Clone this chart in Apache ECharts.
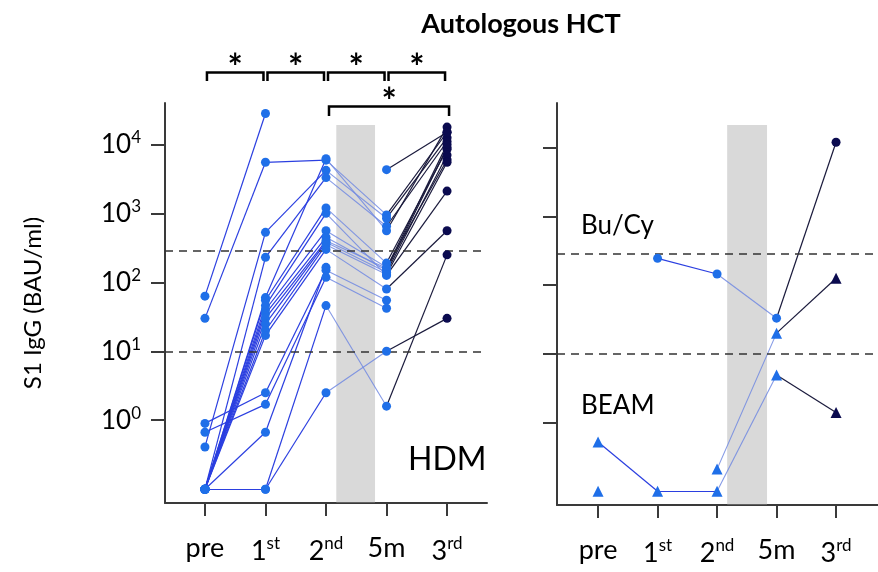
<!DOCTYPE html>
<html>
<head>
<meta charset="utf-8">
<script src="https://cdn.jsdelivr.net/npm/echarts@6/dist/echarts.min.js"></script>
<style>
html,body{margin:0;padding:0;background:#fff;}
#chart{width:878px;height:572px;}
</style>
</head>
<body>
<div id="chart"></div>
<script>
// ---- data ----
const categories = ['pre', '1st', '2nd', '5m', '3rd'];
const tickLabels = ['pre', '1{s|st}', '2{s|nd}', '5m', '3{s|rd}'];
const yTickExponents = [0, 1, 2, 3, 4];
const thresholds = [290, 10];           // dashed reference levels (BAU/ml)
// undetectable values are plotted at 0.1 (bottom row)
// HDM patients, one entry per patient, per time point
const hdmPre = [63, 30, 0.41, 0.1, 0.1, 0.1, 0.1, 0.1, 0.1, 0.1, 0.1, 0.1, 0.1, 0.9, 0.67, 0.1, 0.1, 0.1, null];
const hdm1st = [28000, 5500, 530, 230, 60, 55, 46, 40, 35, 30, 25, 20, 17, 2.5, 1.7, 0.1, 0.1, 0.67, null];
const hdm2nd = [null, 5900, 4200, 3300, 6200, 1200, 1000, 560, 450, 400, 380, 350, 300, 150, 118, 46, 2.5, 165, null];
const hdm5m  = [null, 950, 850, 650, 560, 190, 126, 165, 150, 160, 140, 130, 80, 55, 42, 1.6, 10, null, 4300];
const hdm3rd = [null, 15000, 12500, 11000, 17800, 8500, 2100, 6000, 9000, 10000, 7000, 5500, 560, null, null, 250, 30, null, 15000];
// Bu/Cy and BEAM patients
const buCy  = [null, 245, 145, 33, 12000];
const beamA = [0.52, 0.1, 0.1, 4.9, 1.4];
const beamB = [0.1, null, 0.21, 20, 126];

// ---- styles ----
const C_POINT = '#1f6fe8', C_NAVY = '#0b0b4f';
const C_SEG = ['#2b3fe0', '#2b3fe0', '#7088e2', '#1a1a3c'];
const FONT = 'Lato, "Liberation Sans", sans-serif';

function rows(cols, n) {
  const out = [];
  for (let p = 0; p < n; p++) out.push(cols.map(c => c[p]));
  return out;
}
const hdmPatients = rows([hdmPre, hdm1st, hdm2nd, hdm5m, hdm3rd], hdmPre.length);
const rightCircle = [buCy];
const rightTri = [beamA, beamB];

function segs(patients, k) {
  const d = [];
  patients.forEach(v => {
    if (v[k] != null && v[k + 1] != null)
      d.push({ coords: [[k, Math.log10(v[k])], [k + 1, Math.log10(v[k + 1])]] });
  });
  return d;
}
function pts(patients, cols) {
  const d = [];
  patients.forEach(v => cols.forEach(k => { if (v[k] != null) d.push([k, Math.log10(v[k])]); }));
  return d;
}

const series = [];
function addPanel(gi, patients, symbol, size) {
  for (let k = 0; k < 4; k++) {
    series.push({
      type: 'lines', coordinateSystem: 'cartesian2d', xAxisIndex: gi, yAxisIndex: gi,
      data: segs(patients, k), silent: true, z: 3,
      lineStyle: { color: C_SEG[k], width: k === 2 ? 1.1 : 1.2, opacity: k === 2 ? 0.85 : 1 }
    });
  }
  series.push({ type: 'scatter', xAxisIndex: gi, yAxisIndex: gi, symbol, symbolSize: size, z: 5,
    itemStyle: { color: C_POINT, opacity: 1 }, data: pts(patients, [0, 1, 2, 3]) });
  series.push({ type: 'scatter', xAxisIndex: gi, yAxisIndex: gi, symbol, symbolSize: size, z: 5,
    itemStyle: { color: C_NAVY, opacity: 1 }, data: pts(patients, [4]) });
}
addPanel(0, hdmPatients, 'circle', 9);
addPanel(1, rightCircle, 'circle', 9);
addPanel(1, rightTri, 'triangle', 11);

// reference lines and shaded bands
function decor(gi, band) {
  series.push({ type: 'line', xAxisIndex: gi, yAxisIndex: gi, data: [], silent: true,
    markLine: { symbol: 'none', silent: true, label: { show: false },
      lineStyle: { type: [8, 6], color: '#333', width: 1.6 },
      data: thresholds.map(t => ({ yAxis: Math.log10(t) })) },
    markArea: { silent: true, itemStyle: { color: '#d9d9d9' },
      data: [[{ coord: [band[0], band[2]] }, { coord: [band[1], band[3]] }]] }
  });
}
decor(0, [2.17, 2.81, -1.19, 4.28]);
decor(1, [2.17, 2.84, -1.19, 4.33]);

const axisLineStyle = { color: '#3a3a3a', width: 2 };
function xAx(gi, min, max) {
  return { type: 'value', gridIndex: gi, min, max,
    axisLine: { show: true, onZero: false, lineStyle: axisLineStyle },
    axisTick: { show: true, length: 13, customValues: [0, 1, 2, 3, 4], lineStyle: axisLineStyle },
    axisLabel: { show: true, customValues: [0, 1, 2, 3, 4], margin: 32,
      formatter: v => tickLabels[Math.round(v)],
      fontFamily: FONT, fontSize: 27, color: '#000',
      rich: { s: { fontFamily: FONT, fontSize: 17, color: '#000', padding: [0, 0, 15, 0] } } },
    splitLine: { show: false } };
}
function yAx(gi, max, labels) {
  return { type: 'value', gridIndex: gi, min: -1.2, max,
    axisLine: { show: true, onZero: false, lineStyle: axisLineStyle },
    axisTick: { show: true, length: 14, customValues: yTickExponents, lineStyle: axisLineStyle },
    axisLabel: { show: labels, customValues: yTickExponents, margin: 24,
      formatter: v => '10{s|' + v + '}',
      fontFamily: FONT, fontSize: 26, color: '#000',
      rich: { s: { fontFamily: FONT, fontSize: 17, color: '#000', padding: [0, 0, 14, 0] } } },
    splitLine: { show: false },
    name: labels ? 'S1 IgG (BAU/ml)' : '', nameLocation: 'middle', nameGap: 120,
    nameTextStyle: { fontFamily: FONT, fontSize: 24, color: '#000' } };
}

const chart = echarts.init(document.getElementById('chart'), null, { renderer: 'canvas' });
chart.setOption({
  animation: false,
  backgroundColor: '#fff',
  title: { text: 'Autologous HCT', left: 516, top: 6, textAlign: 'center',
    textStyle: { fontFamily: FONT, fontWeight: 'bold', fontSize: 27, color: '#000' } },
  grid: [
    { left: 165, top: 103, width: 322, height: 400 },
    { left: 557, top: 103, width: 321, height: 402 }
  ],
  xAxis: [xAx(0, -0.66, 4.66), xAx(1, -0.69, 4.705)],
  yAxis: [yAx(0, 4.6, true), yAx(1, 4.65, false)],
  series
});

// annotations placed with the chart's own coordinate conversion
const px = (gi, i, v) => chart.convertToPixel({ xAxisIndex: gi, yAxisIndex: gi }, [i, v]);
const g = [];
const textStyle = (t, size, weight) => ({ text: t, fill: '#000', font: (weight || 'normal') + ' ' + size + 'px ' + FONT });
for (let i = 0; i < 4; i++) {
  const x1 = px(0, i, 0)[0] + 2, x2 = px(0, i + 1, 0)[0] - 2;
  g.push({ type: 'polyline', shape: { points: [[x1, 81], [x1, 72.5], [x2, 72.5], [x2, 81]] },
    style: { stroke: '#000', lineWidth: 2.5, fill: null } });
  g.push({ type: 'text', x: (x1 + x2) / 2, y: 50, style: Object.assign(textStyle('*', 36, 'bold'), { textAlign: 'center' }) });
}
{
  const x1 = px(0, 2, 0)[0] + 3, x2 = px(0, 4, 0)[0] + 2;
  g.push({ type: 'polyline', shape: { points: [[x1, 116], [x1, 106.5], [x2, 106.5], [x2, 116]] },
    style: { stroke: '#000', lineWidth: 2.5, fill: null } });
  g.push({ type: 'text', x: (x1 + x2) / 2, y: 84, style: Object.assign(textStyle('*', 36, 'bold'), { textAlign: 'center' }) });
}
g.push({ type: 'text', x: 408, y: 444, style: textStyle('HDM', 32) });
g.push({ type: 'text', x: 581, y: 213, style: textStyle('Bu/Cy', 26) });
g.push({ type: 'text', x: 581, y: 393, style: textStyle('BEAM', 26) });
chart.setOption({ graphic: g });
</script>
</body>
</html>
